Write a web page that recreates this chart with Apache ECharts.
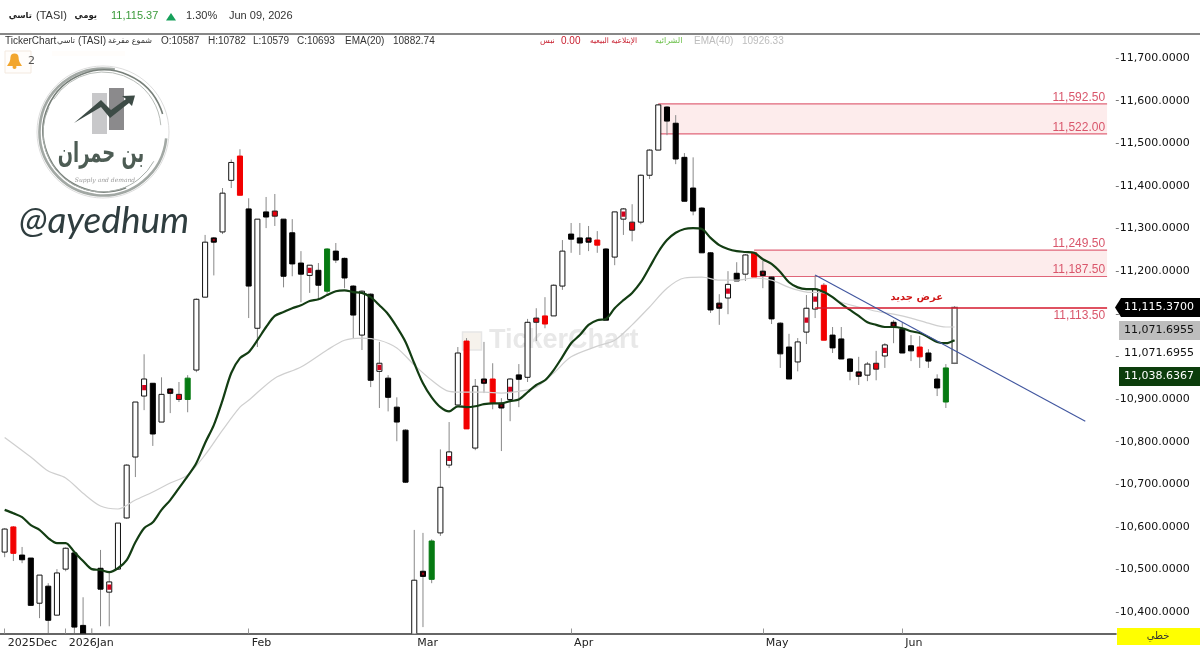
<!DOCTYPE html>
<html><head><meta charset="utf-8">
<style>html,body{margin:0;padding:0;background:#fff}#c{width:1200px;height:650px}</style>
<script src="https://cdn.jsdelivr.net/npm/echarts@6/dist/echarts.min.js"></script>
</head><body><div id="c"></div>
<script>
const slotCount = 128;
const opens = [
10541,10600,10534,10527,10421,10461,10393,10501,10539,10369,
10340,10503,10447,10501,10621,10764,10907,10937,10846,10923,
10911,10899,10968,11139,11278,11292,11413,11470,11346,11066,
11339,11341,11322,11290,11219,11190,11202,11153,11247,11230,
11165,11050,11146,10965,10949,10881,10827,10335,10496,10477,
10586,10745,10886,11036,10785,10947,10947,10890,10899,10956,
10951,11090,11095,11095,11165,11287,11278,11278,11273,11252,
11233,11322,11315,11315,11425,11484,11585,11547,11467,11395,
11348,11243,11125,11137,11195,11193,11243,11200,11186,11078,
11022,10987,11057,11111,11167,11050,11041,10994,10963,10956,
10984,11001,11080,11064,11025,11022,11008,10947,10893,10984];
const closes = [
10595,10538,10523,10416,10487,10381,10492,10550,10365,10334,
10290,10454,10471,10609,10745,10893,10947,10818,10911,10914,
10899,10949,11134,11268,11268,11383,11455,11378,11165,11322,
11327,11329,11188,11217,11193,11214,11167,11252,11226,11184,
11097,11153,10944,10984,10904,10846,10705,10475,10484,10567,
10693,10776,11008,10830,10930,10937,10890,10879,10947,10947,
11080,11080,11076,11167,11247,11275,11266,11268,11261,11085,
11339,11346,11296,11425,11484,11590,11552,11463,11364,11341,
11243,11109,11113,11169,11177,11238,11186,11190,11088,11006,
10947,11034,11113,11158,11038,11020,10994,10965,10954,10982,
10970,11027,11069,11008,11013,10999,10989,10926,10973,11115];
const lows = [
10529,10520,10515,10416,10386,10351,10393,10496,10351,10330,
10280,10367,10367,10499,10619,10717,10874,10790,10846,10867,
10893,10869,10963,11139,11190,11287,11395,11378,11090,11022,
11301,11306,11162,11188,11127,11149,11132,11144,11219,11160,
11043,11015,10928,10879,10871,10801,10703,10320,10365,10468,
10579,10738,10886,10830,10780,10914,10876,10778,10848,10881,
10940,11036,11066,11095,11156,11243,11238,11247,11243,11085,
11214,11285,11270,11310,11416,11484,11519,11451,11364,11331,
11243,11102,11074,11099,11177,11177,11186,11160,11076,10973,
10947,10965,11029,11090,11038,11008,10994,10944,10933,10942,
10944,10973,11031,11008,10989,10973,10973,10907,10879,10982];
const highs = [
10597,10602,10553,10527,10487,10468,10501,10552,10539,10435,
10362,10546,10492,10609,10747,10893,11005,10937,10951,10925,
10940,10956,11136,11285,11280,11395,11462,11486,11371,11322,
11374,11381,11322,11322,11247,11214,11219,11254,11266,11232,
11167,11155,11148,11034,10956,10904,10829,10593,10586,10571,
10782,10846,11022,11043,10947,11034,10984,10902,10949,10982,
11088,11113,11139,11169,11273,11313,11313,11306,11294,11254,
11339,11348,11357,11427,11486,11592,11587,11566,11477,11467,
11350,11245,11146,11200,11221,11240,11245,11224,11188,11080,
11053,11043,11144,11190,11172,11069,11069,10996,10999,10987,
11013,11031,11085,11080,11050,11048,11017,10958,10982,11118];
const kinds = ("w r k k w k w w k k k k m w w w m k w d s g w w d w w r k w " +
"k s k k k m k g k k k w k m k k k w d g w m w r w d r d m k " +
"w s r w w k k d r k w m s w w w k k k k k k d m k w r d k k " +
"k w m m r k k k d w s m d k k r k k g e").split(" ");
const ema20 = [
10640,10632,10623,10604,10593,10574,10562,10562,10541,10520,
10501,10499,10494,10503,10522,10564,10597,10611,10640,10663,
10691,10719,10750,10797,10839,10897,10961,10996,11010,11038,
11069,11095,11104,11113,11120,11130,11134,11144,11153,11155,
11151,11149,11139,11120,11099,11069,11034,10984,10937,10904,
10881,10871,10883,10881,10883,10888,10890,10890,10895,10899,
10916,10933,10944,10968,10999,11031,11050,11074,11085,11088,
11113,11132,11149,11174,11209,11245,11273,11290,11299,11301,
11299,11278,11261,11252,11247,11245,11243,11228,11217,11198,
11174,11162,11158,11158,11151,11139,11123,11109,11095,11080,
11074,11069,11069,11066,11059,11055,11045,11034,11031,11038];
const ema40Index = [0,3,5,7,9,11,13,15,17,19,21,23,25,27,28,31,34,37,39,41,43,45,47,49,51,53,55,57,59,61,63,65,68,70,72,74,76,78,80,82,84,86,88,90,92,94,96,98,100,102,104,106,108,109];
const ema40 = [10810,10764,10731,10715,10679,10649,10642,10663,10682,10703,10722,10769,10827,10881,10897,10949,10975,11015,11038,11043,11038,11020,10980,10944,10918,10916,10916,10914,10918,10928,10961,10999,11024,11038,11074,11116,11160,11184,11186,11179,11179,11184,11179,11162,11151,11149,11127,11116,11106,11099,11090,11078,11069,11069];
const monthIndex = [0,7,28,47,65,87,103];
const monthLabels = ["2025Dec","2026Jan","Feb","Mar","Apr","May","Jun"];
const yTicks = [10400,10500,10600,10700,10800,10900,11000,11100,11200,11300,11400,11500,11600,11700];
const yLabelled = [10400,10500,10600,10700,10800,10900,11200,11300,11400,11500,11600,11700];
const zoneStarts = [75,86];
const zoneEndIndex = 126;
const zoneTops = [11592.5,11249.5];
const zoneBottoms = [11522,11187.5];
const resistanceStart = 93;
const resistanceLevel = 11113.5;
const resistanceNote = "عرض جديد";
const trendIndex = [93,124];
const trendValues = [11191,10848];

const categories = Array.from({length: slotCount}, (_, i) => String(i));
const candleData = opens.map((o, i) => [i, o, closes[i], lows[i], highs[i], kinds[i]]);
const fmt = n => n.toLocaleString("en-US", {minimumFractionDigits: 2, maximumFractionDigits: 2});

function renderCandle(params, api) {
  const i = api.value(0), o = api.value(1), c = api.value(2), l = api.value(3), h = api.value(4);
  const kind = candleData[params.dataIndex][5];
  const band = api.size([1, 0])[0];
  const w = band * 0.58;
  const x = api.coord([i, o])[0];
  const yo = api.coord([i, o])[1], yc = api.coord([i, c])[1];
  const yl = api.coord([i, l])[1], yh = api.coord([i, h])[1];
  let top = Math.min(yo, yc), bot = Math.max(yo, yc);
  if (bot - top < 4) { const mid = (top + bot) / 2; top = mid - 2.2; bot = mid + 2.2; }
  const styles = {
    w: {fill: "#fff", stroke: "#111", lineWidth: 1},
    e: {fill: "#fff", stroke: "#666", lineWidth: 1.5},
    m: {fill: "#fff", stroke: "#111", lineWidth: 1},
    k: {fill: "#000", stroke: "#000", lineWidth: 1},
    d: {fill: "#1a0003", stroke: "#000", lineWidth: 1},
    r: {fill: "#f20000", stroke: "#f20000", lineWidth: 1},
    s: {fill: "#e8000c", stroke: "#222", lineWidth: 1},
    g: {fill: "#067a12", stroke: "#067a12", lineWidth: 1}
  };
  const children = [
    {type: "line", shape: {x1: x, y1: yh, x2: x, y2: yl}, style: {stroke: "#888", lineWidth: 1}},
    {type: "rect", shape: {x: x - w / 2, y: top, width: w, height: bot - top}, style: styles[kind]}
  ];
  if (kind === "m") {
    const mid = (top + bot) / 2;
    children.push({type: "rect", shape: {x: x - w / 2 + 0.6, y: mid - 2.6, width: w - 1.2, height: 5.2}, style: {fill: "#d4001c"}});
  }
  if (kind === "d") {
    const mid = (top + bot) / 2;
    children.push({type: "rect", shape: {x: x - 1, y: mid - 1, width: 2, height: 2}, style: {fill: "#a00012"}});
  }
  return {type: "group", children};
}

function renderZone(params, api) {
  const s = api.value(0), tv = api.value(1), bv = api.value(2), e = api.value(3);
  const band = api.size([1, 0])[0];
  const x1 = api.coord([s, tv])[0];
  const x2 = api.coord([e, tv])[0] + band / 2;
  const yt = api.coord([s, tv])[1], yb = api.coord([s, bv])[1];
  const lab = {font: "12px 'Liberation Sans'", fill: "#d9566b", align: "right", verticalAlign: "bottom"};
  return {type: "group", children: [
    {type: "rect", shape: {x: x1, y: yt, width: x2 - x1, height: yb - yt}, style: {fill: "#fdecec"}},
    {type: "line", shape: {x1, y1: yt, x2, y2: yt}, style: {stroke: "#e0667a", lineWidth: 1.2}},
    {type: "line", shape: {x1, y1: yb, x2, y2: yb}, style: {stroke: "#e0667a", lineWidth: 1.2}},
    {type: "text", style: Object.assign({text: fmt(tv), x: x2 - 2, y: yt - 0.5}, lab)},
    {type: "text", style: Object.assign({text: fmt(bv), x: x2 - 2, y: yb - 0.5}, lab)}
  ]};
}

function renderResistance(params, api) {
  const s = api.value(0), v = api.value(1), e = api.value(2);
  const band = api.size([1, 0])[0];
  const p = api.coord([s, v]);
  const x2 = api.coord([e, v])[0] + band / 2;
  const noteP = api.coord([105, v]);
  return {type: "group", children: [
    {type: "line", shape: {x1: p[0], y1: p[1], x2, y2: p[1]}, style: {stroke: "#d4182c", lineWidth: 1.6}},
    {type: "text", style: {text: fmt(v), x: x2 - 2, y: p[1] + 2, font: "12px 'Liberation Sans'", fill: "#d9566b", align: "right", verticalAlign: "top"}},
    {type: "text", style: {text: resistanceNote, x: noteP[0] - 3, y: p[1] - 11, font: "bold 10px 'DejaVu Sans'", fill: "#d01818", align: "center", verticalAlign: "middle"}}
  ]};
}

function renderTrend(params, api) {
  const a = api.coord([api.value(0), api.value(1)]);
  const b = api.coord([api.value(2), api.value(3)]);
  return {type: "line", shape: {x1: a[0], y1: a[1], x2: b[0], y2: b[1]}, style: {stroke: "#41569f", lineWidth: 1.1}};
}

const txt = (text, x, y, font, fill, extra, el) => Object.assign({type: "text", x, y, style: Object.assign({text, font, fill, verticalAlign: "middle"}, extra || {})}, el || {});
const sm = "10px 'Liberation Sans','DejaVu Sans'";
const smAr = "8px 'DejaVu Sans'";

const graphics = [
  {type: "rect", shape: {x: 0, y: 33.5, width: 1200, height: 1}, style: {fill: "#111"}},
  txt("تاسي", 32, 16, "bold 8.5px 'DejaVu Sans'", "#222", {align: "right"}),
  txt("(TASI)", 36, 16, "11px 'Liberation Sans'", "#333"),
  txt("يومي", 97, 16, "bold 8.5px 'DejaVu Sans'", "#222", {align: "right"}),
  txt("11,115.37", 111, 16, "11px 'Liberation Sans'", "#3a9a3a"),
  {type: "polygon", shape: {points: [[166, 20.5], [176, 20.5], [171, 13]]}, style: {fill: "#16a05a"}},
  txt("1.30%", 186, 16, "11px 'Liberation Sans'", "#333"),
  txt("Jun 09, 2026", 229, 16, "11px 'Liberation Sans'", "#333"),
  txt("TickerChart", 5, 41, sm, "#333"),
  txt("تاسي", 75, 41, smAr, "#333", {align: "right"}),
  txt("(TASI)", 78, 41, sm, "#333"),
  txt("شموع مفرغة", 152, 41, "8px 'DejaVu Sans'", "#333", {align: "right"}),
  txt("O:10587", 161, 41, sm, "#333"),
  txt("H:10782", 208, 41, sm, "#333"),
  txt("L:10579", 253, 41, sm, "#333"),
  txt("C:10693", 297, 41, sm, "#333"),
  txt("EMA(20)", 345, 41, sm, "#333"),
  txt("10882.74", 393, 41, sm, "#333"),
  txt("نبس", 540, 41, "8px 'DejaVu Sans'", "#c81e2e"),
  txt("0.00", 561, 41, sm, "#c81e2e"),
  txt("الإبتلاعيه البيعيه", 590, 41, "7.5px 'DejaVu Sans'", "#c81e2e"),
  txt("الشرائيه", 655, 41, "8px 'DejaVu Sans'", "#6cc04a"),
  txt("EMA(40)", 694, 41, sm, "#bdbdbd"),
  txt("10926.33", 742, 41, sm, "#bdbdbd"),

  {type: "rect", shape: {x: 5, y: 51, width: 26, height: 22}, style: {fill: "#fffdfb", stroke: "#f3e9df", lineWidth: 1}},
  {type: "rect", shape: {x: 52, y: 51, width: 73, height: 5}, style: {fill: "#fffdfb"}},
  {type: "polygon", shape: {points: [[11, 57], [18, 57], [19.5, 62], [22, 66], [7, 66], [9.5, 62]]}, style: {fill: "#f2a62e"}},
  {type: "circle", shape: {cx: 14.5, cy: 57.5, r: 4}, style: {fill: "#f2a62e"}},
  {type: "circle", shape: {cx: 14.5, cy: 67, r: 2}, style: {fill: "#f2a62e"}},
  txt("2", 28, 61, "11px 'DejaVu Sans'", "#555"),

  {type: "circle", shape: {cx: 103, cy: 132, r: 66}, style: {fill: "#fff", stroke: "#d4d4d4", lineWidth: 0.8}},
  {type: "arc", shape: {cx: 103, cy: 132, r: 63.5, startAngle: 0.1, endAngle: 4.9}, style: {stroke: "#a2a8a4", lineWidth: 2.6, fill: null}},
  {type: "arc", shape: {cx: 104, cy: 131, r: 61, startAngle: 1.2, endAngle: 6.0}, style: {stroke: "#777f79", lineWidth: 1.6, fill: null}},
  {type: "arc", shape: {cx: 102, cy: 133, r: 59, startAngle: 0.5, endAngle: 3.6}, style: {stroke: "#aab0ac", lineWidth: 1, fill: null}},
  {type: "arc", shape: {cx: 103, cy: 130, r: 58, startAngle: 3.7, endAngle: 6.2}, style: {stroke: "#b8bdb9", lineWidth: 1, fill: null}},
  {type: "rect", shape: {x: 92, y: 93, width: 15, height: 41}, style: {fill: "#c8c8ca"}},
  {type: "rect", shape: {x: 109, y: 88, width: 15, height: 42}, style: {fill: "#8b8a8c"}},
  {type: "polygon", shape: {points: [[74, 123], [101, 100], [111, 110], [126, 99], [122, 96], [135, 95.5], [132, 106], [129, 103], [110, 118], [101, 107]]}, style: {fill: "#3d4b46"}},
  txt("بن حمران", 101, 155, "bold 28px 'DejaVu Sans'", "#4d5c54", {align: "center"}, {scaleX: 0.64}),
  txt("Supply and demand", 105, 180, "italic 6px 'DejaVu Serif'", "#9a9a9a", {align: "center"}),
  txt("@ayedhum", 19, 221, "italic 37px Lato", "#2f3d3f"),

  {type: "rect", shape: {x: 462.5, y: 332, width: 19, height: 18}, style: {fill: "#f6f2ec", stroke: "#e6e6e6", lineWidth: 1.5}},
  txt("TickerChart", 489, 341, "bold 27px 'Liberation Sans'", "#e8e8e8"),

  {type: "polygon", shape: {points: [[1115, 307.5], [1121, 298], [1200, 298], [1200, 317], [1121, 317]]}, style: {fill: "#000"}},
  txt("11,115.3700", 1124, 307.5, "11px 'DejaVu Sans'", "#fff"),
  {type: "rect", shape: {x: 1119, y: 321, width: 81, height: 19}, style: {fill: "#bdbdbd"}},
  txt("11,071.6955", 1124, 330.5, "11px 'DejaVu Sans'", "#111"),
  txt("11,071.6955", 1124, 353, "11px 'DejaVu Sans'", "#111"),
  {type: "rect", shape: {x: 1119, y: 367, width: 81, height: 19}, style: {fill: "#0c3d0c"}},
  txt("11,038.6367", 1124, 376.5, "11px 'DejaVu Sans'", "#fff"),
  {type: "rect", shape: {x: 1117, y: 628, width: 83, height: 17}, style: {fill: "#ffff00"}},
  txt("خطي", 1158, 636.5, "10px 'DejaVu Sans'", "#333", {align: "center"})
];

const chart = echarts.init(document.getElementById("c"), null, {renderer: "canvas"});
chart.setOption({
  animation: false,
  backgroundColor: "#fff",
  grid: {left: 0.3, top: 36.7, width: 1115.5, bottom: 16.5, containLabel: false},
  graphic: {elements: graphics},
  xAxis: {
    type: "category",
    data: categories,
    boundaryGap: true,
    axisLine: {onZero: false, lineStyle: {color: "#666", width: 2}},
    axisTick: {show: true, inside: true, length: 5, alignWithLabel: true, lineStyle: {color: "#999"},
      interval: i => monthIndex.includes(i)},
    axisLabel: {
      show: true, align: "left", margin: 4, padding: [0, 0, 0, 3],
      color: "#222", fontFamily: "DejaVu Sans", fontSize: 11,
      interval: i => monthIndex.includes(i),
      formatter: (v, i) => monthLabels[monthIndex.indexOf(i)] || ""
    },
    splitLine: {show: false}
  },
  yAxis: {
    type: "value", position: "right", min: 10350, max: 11750, interval: 50, scale: true,
    axisLine: {show: false},
    axisTick: {show: true, length: 3, lineStyle: {color: "#777"}, customValues: yTicks},
    axisLabel: {margin: 4, color: "#111", fontFamily: "DejaVu Sans", fontSize: 11, customValues: yLabelled,
      formatter: v => v.toLocaleString("en-US", {minimumFractionDigits: 4, maximumFractionDigits: 4})},
    splitLine: {show: false}
  },
  series: [
    {type: "custom", name: "Supply zones", z: 1, clip: true, renderItem: renderZone,
      data: zoneStarts.map((s, i) => [s, zoneTops[i], zoneBottoms[i], zoneEndIndex]), encode: {x: 0, y: [1, 2]}, silent: true},
    {type: "custom", name: "TASI", z: 3, clip: true, renderItem: renderCandle,
      data: candleData.map(r => r.slice(0, 5)), encode: {x: 0, y: [1, 2, 3, 4]}, silent: true},
    {type: "line", name: "EMA(40)", z: 4, data: ema40Index.map((x, i) => [x, ema40[i]]), smooth: 0.3, showSymbol: false, symbol: "none",
      lineStyle: {color: "#cfcfcf", width: 1.2}, silent: true},
    {type: "line", name: "EMA(20)", z: 5, data: ema20.map((v, i) => [i, v]), smooth: 0.3, showSymbol: false, symbol: "none",
      lineStyle: {color: "#133d13", width: 2.2}, silent: true},
    {type: "custom", name: "New supply", z: 6, clip: false, renderItem: renderResistance,
      data: [[resistanceStart, resistanceLevel, zoneEndIndex]], encode: {x: 0, y: 1}, silent: true},
    {type: "custom", name: "Trend", z: 6, clip: true, renderItem: renderTrend,
      data: [[trendIndex[0], trendValues[0], trendIndex[1], trendValues[1]]], encode: {x: [0, 2], y: [1, 3]}, silent: true}
  ]
});
</script></body></html>
